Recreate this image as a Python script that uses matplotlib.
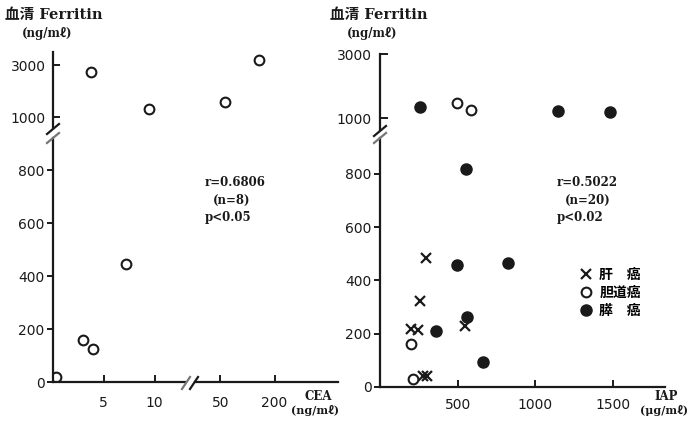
import matplotlib
matplotlib.use('Agg')
import matplotlib.pyplot as plt
import numpy as np
from matplotlib.lines import Line2D
from matplotlib.ticker import NullLocator

plt.rcParams['font.family'] = ['DejaVu Sans', 'Noto Sans CJK JP']

# 左: CEA vs 血清 Ferritin (n=8)
cea = np.array([0.3, 3.0, 3.9, 7.2, 3.7, 9.5, 57, 135])
cea_fer = np.array([20, 158, 125, 445, 2730, 1310, 1580, 3190])

# 右: IAP vs 血清 Ferritin (n=20)
liver_iap = np.array([298, 259, 201, 244, 545, 280, 300])
liver_fer = np.array([484, 321, 217, 214, 227, 40, 40])
bile_iap = np.array([197, 210, 498, 584])
bile_fer = np.array([163, 30, 1478, 1250])
panc_iap = np.array([259, 1143, 1481, 552, 498, 825, 563, 363, 663])
panc_fer = np.array([1353, 1228, 1178, 818, 457, 467, 263, 210, 94])

low_ticks = [0, 200, 400, 600, 800]
up_ticks = [1000, 3000]
legend_labels = ['肝\u3000癌', '胆道癌', '膵\u3000癌']

W, H = 689, 422
INK = '#1a1a1a'
fig = plt.figure(figsize=(W / 100, H / 100), dpi=100)


def rect(x0, y0, x1, y1):
    return [x0 / W, 1 - y1 / H, (x1 - x0) / W, (y1 - y0) / H]


def px(x, y):
    return x / W, 1 - y / H


def slash(x, y, dx=6, dy=5, color=INK):
    a, b = px(x - dx, y + dy)
    c, d = px(x + dx, y - dy)
    fig.add_artist(Line2D([a, c], [b, d], color=color, lw=1.6))


def style(ax, left=True, bottom=True):
    for s in ['top', 'right']:
        ax.spines[s].set_visible(False)
    ax.spines['left'].set_visible(left)
    ax.spines['bottom'].set_visible(bottom)
    for s in ['left', 'bottom']:
        ax.spines[s].set_linewidth(1.6)
        ax.spines[s].set_color(INK)
    ax.patch.set_alpha(0)
    ax.tick_params(colors=INK, labelsize=10, width=1.4)


open_kw = dict(ls='none', marker='o', ms=7, mfc='white', mec=INK, mew=1.5)

# ---- left panel ----
lo_l = fig.add_axes(rect(53, 138, 185, 382))
lo_r = fig.add_axes(rect(195, 138, 338, 382))
up_l = fig.add_axes(rect(53, 52, 185, 128))
up_r = fig.add_axes(rect(195, 52, 338, 128))

for ax in [lo_l, up_l]:
    ax.set_xlim(0, 13)
for ax in [lo_r, up_r]:
    ax.set_xscale('log')
    ax.set_xlim(26.2, 1014)
    ax.xaxis.set_minor_locator(NullLocator())
for ax in [lo_l, lo_r]:
    ax.set_ylim(0, 921)
for ax in [up_l, up_r]:
    ax.set_ylim(577, 3500)

m = (cea < 20) & (cea_fer < 1000)
lo_l.plot(cea[m], cea_fer[m], **open_kw)
m = (cea < 20) & (cea_fer >= 1000)
up_l.plot(cea[m], cea_fer[m], **open_kw)
m = (cea >= 20) & (cea_fer >= 1000)
up_r.plot(cea[m], cea_fer[m], **open_kw)

style(lo_l)
lo_l.set_xticks([5, 10])
lo_l.set_yticks(low_ticks)
lo_l.tick_params(axis='x', direction='in', length=5, pad=10)
lo_l.tick_params(axis='y', direction='out', length=4, pad=2)

style(lo_r, left=False)
lo_r.set_xticks([50, 200], ['50', '200'])
lo_r.set_yticks([])
lo_r.tick_params(axis='x', direction='in', length=5, pad=10)

style(up_l, bottom=False)
up_l.set_xticks([])
up_l.set_yticks(up_ticks)
up_l.tick_params(axis='y', direction='in', length=5, pad=5)

style(up_r, left=False, bottom=False)
up_r.set_xticks([])
up_r.set_yticks([])

slash(53, 129)
slash(53, 138, color='#777777')
slash(186, 383, dx=4, dy=6, color='#777777')
slash(194, 383, dx=4, dy=6)

# ---- right panel ----
lo = fig.add_axes(rect(380, 138, 665, 387))
up = fig.add_axes(rect(380, 54, 665, 130))
for ax in [lo, up]:
    ax.set_xlim(0, 1835)
lo.set_ylim(0, 934)
up.set_ylim(625, 3000)

for ax, keep in [(lo, lambda v: v < 1000), (up, lambda v: v >= 1000)]:
    m = keep(liver_fer)
    ax.plot(liver_iap[m], liver_fer[m], ls='none', marker='x', ms=7, mec=INK,
            mew=1.6, label=legend_labels[0])
    m = keep(bile_fer)
    ax.plot(bile_iap[m], bile_fer[m], label=legend_labels[1], **open_kw)
    m = keep(panc_fer)
    ax.plot(panc_iap[m], panc_fer[m], ls='none', marker='o', ms=8, mfc=INK,
            mec=INK, label=legend_labels[2])

style(lo)
lo.set_xticks([500, 1000, 1500])
lo.set_yticks(low_ticks)
lo.tick_params(axis='x', direction='in', length=5, pad=8)
lo.tick_params(axis='y', direction='out', length=4, pad=2)

style(up, bottom=False)
up.set_xticks([])
up.set_yticks(up_ticks)
up.tick_params(axis='y', direction='in', length=6, pad=6)

slash(380, 131)
slash(380, 138, color='#777777')

lo.legend(loc='upper left', bbox_to_anchor=(580 / W, 1 - 268 / H),
          bbox_transform=fig.transFigure, frameon=False, handlelength=0.8,
          handletextpad=0.6, labelspacing=0.3, borderpad=0, borderaxespad=0,
          prop={'family': ['Noto Sans CJK JP'], 'size': 10, 'weight': 'bold'})

# ---- texts ----
serif = ['DejaVu Serif', 'Noto Sans CJK JP']
for x0 in [5, 330]:
    fig.text(*px(x0, 15), '血清 Ferritin', family=serif, weight='bold',
             fontsize=10.5, va='center', ha='left', color=INK)
    fig.text(*px(x0 + 17, 33), '(ng/mℓ)', family=serif, weight='bold',
             fontsize=8.5, va='center', ha='left', color=INK)

stats = [(205, 'r=0.6806', 'p<0.05', '(n=8)'), (557, 'r=0.5022', 'p<0.02', '(n=20)')]
for x0, r, p, n in stats:
    fig.text(*px(x0, 182), r, family=serif, weight='bold', fontsize=8.5,
             va='center', color=INK)
    fig.text(*px(x0 + 8, 200), n, family=serif, weight='bold', fontsize=8.5,
             va='center', color=INK)
    fig.text(*px(x0, 218), p, family=serif, weight='bold', fontsize=8.5,
             va='center', color=INK)

fig.text(*px(318, 397), 'CEA', family=serif, weight='bold', fontsize=8.5,
         ha='center', va='center', color=INK)
fig.text(*px(315, 411), '(ng/mℓ)', family=serif, weight='bold', fontsize=8,
         ha='center', va='center', color=INK)
fig.text(*px(666, 397), 'IAP', family=serif, weight='bold', fontsize=8.5,
         ha='center', va='center', color=INK)
fig.text(*px(664, 411), '(μg/mℓ)', family=serif, weight='bold', fontsize=8,
         ha='center', va='center', color=INK)

fig.savefig('out.png', dpi=100)
